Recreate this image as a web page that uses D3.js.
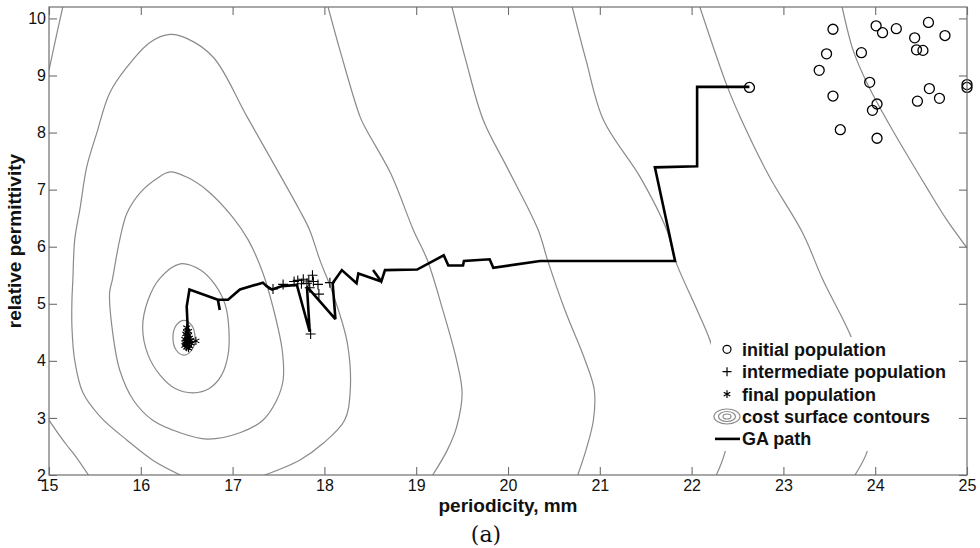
<!DOCTYPE html>
<html><head><meta charset="utf-8">
<script src="https://cdn.jsdelivr.net/npm/d3@7"></script>
<style>body{margin:0;background:#fff;} svg{display:block;}</style>
</head><body>
<svg id="chart" width="980" height="548"></svg>
<script>
// ---------- data ----------
const xTicks = [15,16,17,18,19,20,21,22,23,24,25];
const yTicks = [2,3,4,5,6,7,8,9,10];
const xDomain = [15,25];
const yDomain = [2,10.2];
const xLabel = "periodicity, mm";
const yLabel = "relative permittivity";
const caption = "(a)";
const legendLabels = ["initial population","intermediate population","final population","cost surface contours","GA path"];

// cost surface contours (closed loops)
const contour1 = [[16.47,4.71],[16.555,4.62],[16.59,4.41],[16.555,4.19],[16.47,4.10],[16.385,4.19],[16.35,4.41],[16.385,4.62]];
const contour2 = [[16.43,5.70],[16.65,5.59],[16.81,5.33],[16.92,4.98],[16.96,4.54],[16.95,4.10],[16.88,3.75],[16.75,3.52],[16.57,3.44],[16.37,3.52],[16.21,3.75],[16.08,4.10],[16.02,4.59],[16.08,5.07],[16.21,5.45]];
const contour3 = [[16.32,7.31],[16.50,7.22],[16.72,6.99],[17.00,6.52],[17.17,6.12],[17.33,5.54],[17.44,4.94],[17.54,4.19],[17.55,3.66],[17.48,3.31],[17.33,2.96],[17.08,2.74],[16.72,2.63],[16.43,2.74],[16.13,2.96],[15.92,3.31],[15.77,3.84],[15.70,4.42],[15.66,5.19],[15.69,5.42],[15.77,6.12],[15.85,6.59],[15.99,6.94],[16.18,7.20]];
// open contours
const contour4 = [[16.43,2.0],[16.13,2.26],[15.85,2.61],[15.56,3.02],[15.37,3.44],[15.28,4.01],[15.25,4.59],[15.25,5.07],[15.26,5.42],[15.28,6.12],[15.34,6.69],[15.41,7.39],[15.52,7.99],[15.66,8.69],[15.85,9.15],[16.10,9.58],[16.32,9.72],[16.50,9.65],[16.79,9.32],[17.16,8.27],[17.73,6.64],[17.84,6.29],[17.95,5.77],[18.09,5.19],[18.25,4.31],[18.28,3.44],[18.22,2.96],[17.99,2.56],[17.73,2.26],[17.35,2.0]];
const contour5 = [[15.0,2.96],[15.12,2.68],[15.19,2.53],[15.28,2.35],[15.43,2.0]];
const contour6 = [[15.0,9.09],[15.07,9.62],[15.15,10.2]];
const contour7 = [[18.04,10.2],[18.17,9.44],[18.39,8.27],[18.46,8.04],[18.72,7.29],[18.97,6.29],[19.12,5.77],[19.29,4.89],[19.44,4.01],[19.50,3.44],[19.44,2.84],[19.34,2.44],[19.18,2.0]];
const contour8 = [[19.39,10.2],[19.54,9.27],[19.73,8.22],[19.99,7.39],[20.33,6.29],[20.43,5.77],[20.62,4.89],[20.84,4.01],[20.94,3.49],[20.93,2.96],[20.85,2.44],[20.76,2.0]];
const contour9 = [[20.70,10.2],[20.85,9.27],[21.04,8.22],[21.44,7.22],[21.73,6.29],[21.82,5.77],[22.06,4.89],[22.20,4.36],[22.33,3.66],[22.40,3.05],[22.37,2.44],[22.27,2.0]];
const contour10 = [[22.09,10.2],[22.39,8.80],[22.53,8.27],[22.85,7.22],[23.21,6.24],[23.43,5.42],[23.73,4.45],[23.90,3.66],[23.97,2.96],[23.91,2.40],[23.78,2.0]];
const contour11 = [[23.64,10.2],[23.76,9.44],[23.91,8.87],[24.19,8.04],[24.56,7.04],[24.78,6.47],[25.0,5.98]];
const closedContours = [contour1, contour2, contour3];
const openContours = [contour4, contour5, contour6, contour7, contour8, contour9, contour10, contour11];

// GA path (periodicity, permittivity)
const gaPath = [[16.52,4.42],[16.51,4.61],[16.50,4.95],[16.53,5.25],[16.84,5.07],[16.86,4.89],[16.84,5.07],[16.95,5.07],[17.08,5.25],[17.33,5.37],[17.37,5.31],[17.43,5.25],[17.54,5.31],[17.70,5.33],[17.84,4.51],[17.81,5.30],[18.12,4.73],[18.09,5.36],[18.19,5.59],[18.35,5.36],[18.37,5.53],[18.62,5.39],[18.53,5.59],[18.62,5.39],[18.66,5.59],[19.01,5.60],[19.30,5.85],[19.35,5.67],[19.51,5.67],[19.52,5.75],[19.80,5.78],[19.84,5.63],[20.35,5.75],[21.82,5.75],[21.60,7.39],[22.06,7.41],[22.06,8.80],[22.63,8.80]];

const initialPop = [[22.63,8.79],[23.54,9.81],[24.01,9.87],[24.08,9.75],[24.23,9.82],[24.58,9.93],[24.76,9.70],[24.43,9.66],[24.45,9.45],[24.52,9.44],[23.47,9.38],[23.85,9.40],[23.39,9.09],[23.94,8.88],[23.54,8.64],[24.02,8.50],[23.97,8.39],[23.62,8.05],[24.02,7.90],[24.59,8.77],[24.46,8.55],[24.70,8.60],[25.0,8.84],[25.0,8.79]];
const intermediatePop = [[17.44,5.26],[17.55,5.34],[17.67,5.39],[17.71,5.41],[17.75,5.35],[17.81,5.36],[17.87,5.50],[17.88,5.39],[17.93,5.34],[17.94,5.17],[18.06,5.37],[17.85,4.47],[17.83,5.40],[17.77,5.43],[17.84,5.28]];
const finalPop = [[16.50,4.58],[16.52,4.52],[16.49,4.47],[16.51,4.42],[16.53,4.40],[16.48,4.38],[16.50,4.35],[16.52,4.33],[16.54,4.36],[16.49,4.30],[16.51,4.28],[16.53,4.26],[16.50,4.24],[16.48,4.27],[16.55,4.31],[16.60,4.35],[16.52,4.45],[16.50,4.50],[16.51,4.38],[16.49,4.33],[16.52,4.22]];

// ---------- layout ----------
const W = 980, H = 548;
const m = {left:49, right:13, top:7, bottom:73};
const pw = W - m.left - m.right, ph = H - m.top - m.bottom;
const svg = d3.select("#chart");
const x = d3.scaleLinear().domain(xDomain).range([m.left, m.left+pw]);
const y = d3.scaleLinear().domain(yDomain).range([m.top+ph, m.top]);
const axisColor = "#6e6e6e";
const font = "'Liberation Sans', Arial, sans-serif";

svg.append("defs").append("clipPath").attr("id","clip")
  .append("rect").attr("x",m.left).attr("y",m.top).attr("width",pw).attr("height",ph);

const plot = svg.append("g").attr("clip-path","url(#clip)");

// contours
const lineOpen = d3.line().x(d=>x(d[0])).y(d=>y(d[1])).curve(d3.curveCatmullRom);
const lineClosed = d3.line().x(d=>x(d[0])).y(d=>y(d[1])).curve(d3.curveCatmullRomClosed);
plot.selectAll("path.cc").data(closedContours).join("path").attr("class","cc")
  .attr("d",lineClosed).attr("fill","none").attr("stroke","#8a8a8a").attr("stroke-width",1.2);
plot.selectAll("path.oc").data(openContours).join("path").attr("class","oc")
  .attr("d",lineOpen).attr("fill","none").attr("stroke","#8a8a8a").attr("stroke-width",1.2);

// GA path
const lineLin = d3.line().x(d=>x(d[0])).y(d=>y(d[1]));
plot.append("path").datum(gaPath).attr("d",lineLin).attr("fill","none")
  .attr("stroke","#000").attr("stroke-width",2.6).attr("stroke-linejoin","miter").attr("stroke-miterlimit",3);

// markers
const svgRoot = svg.append("g");
svgRoot.selectAll("circle.ip").data(initialPop).join("circle").attr("class","ip")
  .attr("cx",d=>x(d[0])).attr("cy",d=>y(d[1])).attr("r",5)
  .attr("fill","none").attr("stroke","#000").attr("stroke-width",1.3);
const plusPath = "M-5,0H5M0,-5V5";
svgRoot.selectAll("path.pp").data(intermediatePop).join("path").attr("class","pp")
  .attr("transform",d=>`translate(${x(d[0])},${y(d[1])})`).attr("d",plusPath)
  .attr("stroke","#000").attr("stroke-width",1.1).attr("fill","none");
const star = d3.symbol().type(d3.symbolAsterisk).size(45);
svgRoot.selectAll("path.fp").data(finalPop).join("path").attr("class","fp")
  .attr("transform",d=>`translate(${x(d[0])},${y(d[1])})`).attr("d",star)
  .attr("stroke","#000").attr("stroke-width",1.1).attr("fill","none");

// frame
svg.append("rect").attr("x",m.left).attr("y",m.top).attr("width",pw).attr("height",ph)
  .attr("fill","none").attr("stroke",axisColor).attr("stroke-width",1.2);

// axes with inward ticks
const tickLen = 8;
const xAxisB = d3.axisBottom(x).tickValues(xTicks).tickSize(-tickLen).tickPadding(tickLen+5).tickFormat(d3.format("d"));
const gx = svg.append("g").attr("transform",`translate(0,${m.top+ph})`).call(xAxisB);
const xAxisT = d3.axisTop(x).tickValues(xTicks).tickSize(-tickLen).tickFormat("");
const gxt = svg.append("g").attr("transform",`translate(0,${m.top})`).call(xAxisT);
const yAxisL = d3.axisLeft(y).tickValues(yTicks).tickSize(-tickLen).tickPadding(3).tickFormat(d3.format("d"));
const gy = svg.append("g").attr("transform",`translate(${m.left},0)`).call(yAxisL);
const yAxisR = d3.axisRight(y).tickValues(yTicks).tickSize(-tickLen).tickFormat("");
const gyr = svg.append("g").attr("transform",`translate(${m.left+pw},0)`).call(yAxisR);
[gx,gxt,gy,gyr].forEach(g=>{
  g.select(".domain").remove();
  g.selectAll(".tick line").attr("stroke",axisColor).attr("stroke-width",1.1);
  g.selectAll(".tick text").attr("fill","#111").style("font-family",font).style("font-size","16px");
});
gx.selectAll(".tick text").attr("dy","0.71em").attr("y",5);

// axis titles
svg.append("text").attr("x",m.left+pw/2).attr("y",512).attr("text-anchor","middle")
  .style("font-family",font).style("font-weight","bold").style("font-size","19px").attr("fill","#111").text(xLabel);
svg.append("text").attr("transform",`translate(21,${m.top+ph/2}) rotate(-90)`).attr("text-anchor","middle")
  .style("font-family",font).style("font-weight","bold").style("font-size","19px").attr("fill","#111").text(yLabel);
svg.append("text").attr("x",486).attr("y",542).attr("text-anchor","middle")
  .style("font-family","'DejaVu Serif', serif").style("font-size","22px").attr("fill","#111").text(caption);

// legend
const lg = svg.append("g");
lg.append("rect").attr("x",711).attr("y",337).attr("width",245).attr("height",114).attr("fill","#fff");
const rowY = d3.range(legendLabels.length).map(i=>349.3 + i*22.4);
const mx = 727;
lg.append("circle").attr("cx",mx).attr("cy",rowY[0]).attr("r",4).attr("fill","none").attr("stroke","#000").attr("stroke-width",1.2);
lg.append("path").attr("transform",`translate(${mx},${rowY[1]})`).attr("d","M-4.5,0H4.5M0,-4.5V4.5").attr("stroke","#000").attr("stroke-width",1.2);
lg.append("path").attr("transform",`translate(${mx},${rowY[2]})`).attr("d",d3.symbol().type(d3.symbolAsterisk).size(40)).attr("stroke","#000").attr("stroke-width",1.2).attr("fill","none");
[[13,7.5],[8.5,5],[4,2.5]].forEach(r=>{
  lg.append("ellipse").attr("cx",mx).attr("cy",rowY[3]).attr("rx",r[0]).attr("ry",r[1]).attr("fill","none").attr("stroke","#8a8a8a").attr("stroke-width",1.2);
});
lg.append("line").attr("x1",715).attr("x2",740).attr("y1",rowY[4]).attr("y2",rowY[4]).attr("stroke","#000").attr("stroke-width",2.6);
lg.selectAll("text.lt").data(legendLabels).join("text").attr("class","lt")
  .attr("x",742).attr("y",(d,i)=>rowY[i]+6.5)
  .style("font-family",font).style("font-weight","bold").style("font-size","18px").attr("fill","#111").text(d=>d);
</script>
</body></html>
